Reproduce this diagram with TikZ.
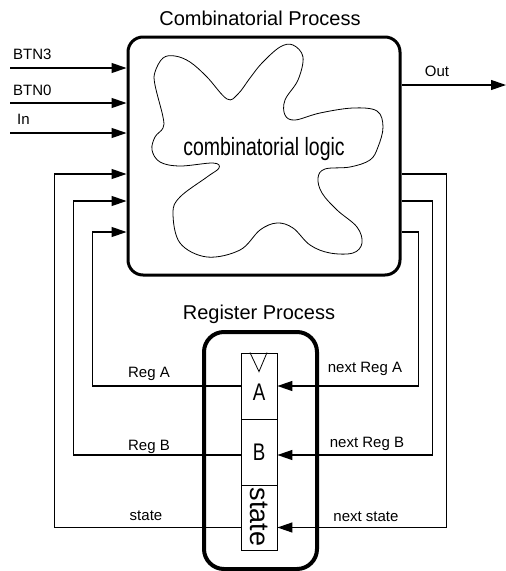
\documentclass[tikz,border=0pt]{standalone}
\usepackage{fontspec}
\setmainfont{Liberation Sans}
\newfontfamily\narrowfont[FakeStretch=0.78]{Liberation Sans}
\usetikzlibrary{arrows.meta,positioning,calc}

\begin{document}
\begin{tikzpicture}[x=1pt, y=-1pt,
    every node/.style={font=\fontsize{15}{18}\selectfont, inner sep=0pt},
    procbox/.style={draw, line width=3pt, rounded corners=15pt},
    cell/.style={draw, line width=0.8pt, minimum width=36pt},
    wire/.style={line width=1.2pt, -{Triangle[length=15pt, width=10pt]}},
    bigtitle/.style={font=\fontsize{20}{24}\selectfont, anchor=base},
    lbl/.style={anchor=base}]
    \useasboundingbox (0,0) rectangle (506,571);

    % Combinatorial process
    \node[procbox, minimum width=272pt, minimum height=238pt] (comb) at (264,156) {};
    \node[bigtitle] (combtitle) at (260,25) {Combinatorial Process};
    \draw[line width=0.8pt] plot[smooth cycle, tension=0.6] coordinates {
        (155,72) (163,58) (175,56) (190,62) (207,77) (227,99) (238,94) (250,78)
        (262,63) (280,47) (293,45) (303,57) (298,80) (285,100) (285,115) (295,120)
        (320,113) (353,108) (377,111) (383,127) (378,147) (370,160) (350,167) (325,169)
        (318,178) (322,193) (337,210) (357,227) (362,243) (353,253) (330,253) (310,245)
        (293,228) (277,223) (260,230) (240,250) (207,257) (180,243) (173,213) (180,197)
        (207,177) (219,168) (213,163) (180,166) (160,162) (152,150) (155,137) (163,128)
        (163,117) (155,85)};
    \node[font=\narrowfont\fontsize{25}{30}\selectfont, anchor=base] (logic) at (264,155) {combinatorial logic};

    % Register process
    \node[procbox, line width=4pt, rounded corners=20pt, minimum width=113pt, minimum height=237pt] (regproc) at (260.5,450.5) {};
    \node[bigtitle] (regtitle) at (259,319) {Register Process};
    \node[cell, minimum height=66pt] (rega) at (259,386) {};
    \node[cell, minimum height=66pt] (regb) at (259,452) {};
    \node[cell, minimum height=65pt] (regst) at (259,517.5) {};
    \draw[line width=0.8pt] ([xshift=-9pt]rega.north) -- ([yshift=-19pt]rega.north) -- ([xshift=8pt]rega.north);
    \node[font=\narrowfont\fontsize{24}{28}\selectfont, anchor=base] (atext) at (259,400) {A};
    \node[font=\narrowfont\fontsize{24}{28}\selectfont, anchor=base] (btext) at (259,460) {B};
    \node[font=\fontsize{27}{32}\selectfont, rotate=-90] (sttext) at (259,517) {state};

    % Ports on the combinatorial box
    \coordinate (inst) at ([yshift=-18pt]comb.west);
    \coordinate (inb) at ([yshift=-45pt]comb.west);
    \coordinate (ina) at ([yshift=-76pt]comb.west);
    \coordinate (outst) at ([yshift=-18pt]comb.east);
    \coordinate (outb) at ([yshift=-45pt]comb.east);
    \coordinate (outa) at ([yshift=-76pt]comb.east);

    % Inputs and output
    \coordinate (btn3) at (10,68);
    \coordinate (btn0) at (10,103);
    \coordinate (din) at (10,133);
    \coordinate (dout) at (506,85);
    \draw[wire] (btn3) -- (btn3 -| comb.west);
    \draw[wire] (btn0) -- (btn0 -| comb.west);
    \draw[wire] (din) -- (din -| comb.west);
    \draw[wire] (dout -| comb.east) -- (dout);
    \node[anchor=base west] (lbtn3) at (13,59) {BTN3};
    \node[anchor=base west] (lbtn0) at (13,95) {BTN0};
    \node[anchor=base west] (lin) at (17,124) {In};
    \node[lbl] (lout) at (437,76) {Out};

    % Register outputs back to the logic
    \draw[wire] (rega.west) -- ++(-148,0) |- (ina);
    \draw[wire] ([yshift=-3pt]regb.west) -- ++(-167,0) |- (inb);
    \draw[wire] ([yshift=-10pt]regst.west) -- ++(-186,0) |- (inst);
    \node[lbl] (lrega) at (149,377) {Reg A};
    \node[lbl] (lregb) at (149,450) {Reg B};
    \node[lbl] (lst) at (146,520) {state};

    % Next values into the registers
    \draw[wire] (outa) -- ++(17,0) |- (rega.east);
    \draw[wire] (outb) -- ++(31,0) |- ([yshift=-3pt]regb.east);
    \draw[wire] (outst) -- ++(45,0) |- ([yshift=-10pt]regst.east);
    \node[lbl] (lnrega) at (365,372) {next Reg A};
    \node[lbl] (lnregb) at (367,447) {next Reg B};
    \node[lbl] (lnst) at (366,521) {next state};
\end{tikzpicture}
\end{document}
